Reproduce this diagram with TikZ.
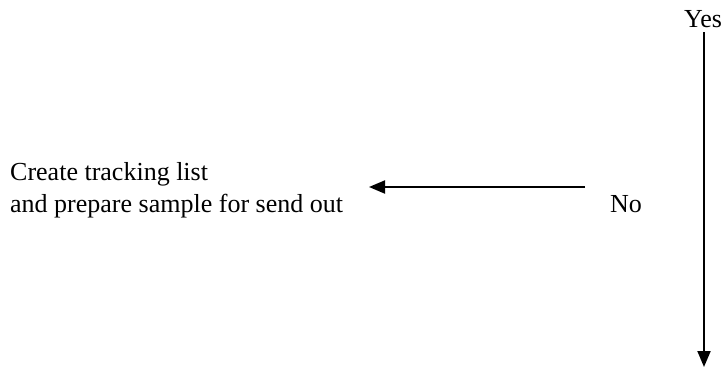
\documentclass[tikz,border=0pt]{standalone}
\usepackage{fontspec}
\setmainfont{Liberation Serif}
\usetikzlibrary{arrows.meta}
\begin{document}
\begin{tikzpicture}[x=1bp,y=1bp,
  lbl/.style={inner sep=0pt, font=\fontsize{26bp}{32bp}\selectfont, text=black},
  flow/.style={line width=2bp, draw=black, -{Triangle[length=16bp,width=13bp]}}]
\useasboundingbox (0,0) rectangle (727,369);
\fill[white] (0,0) rectangle (727,369);
\node[lbl, anchor=base west, align=left] (task) at (10,157) {Create tracking list\\and prepare sample for send out};
\node[lbl, anchor=base west] (no) at (610,157) {No};
\node[lbl, anchor=base west] (yes) at (684,342) {Yes};
\coordinate (hstart) at (585,182);
\coordinate (hend) at (369,182);
\coordinate (vstart) at (704,337);
\coordinate (vend) at (704,2);
\draw[flow] (hstart) -- (hend);
\draw[flow] (vstart) -- (vend);
\end{tikzpicture}
\end{document}
